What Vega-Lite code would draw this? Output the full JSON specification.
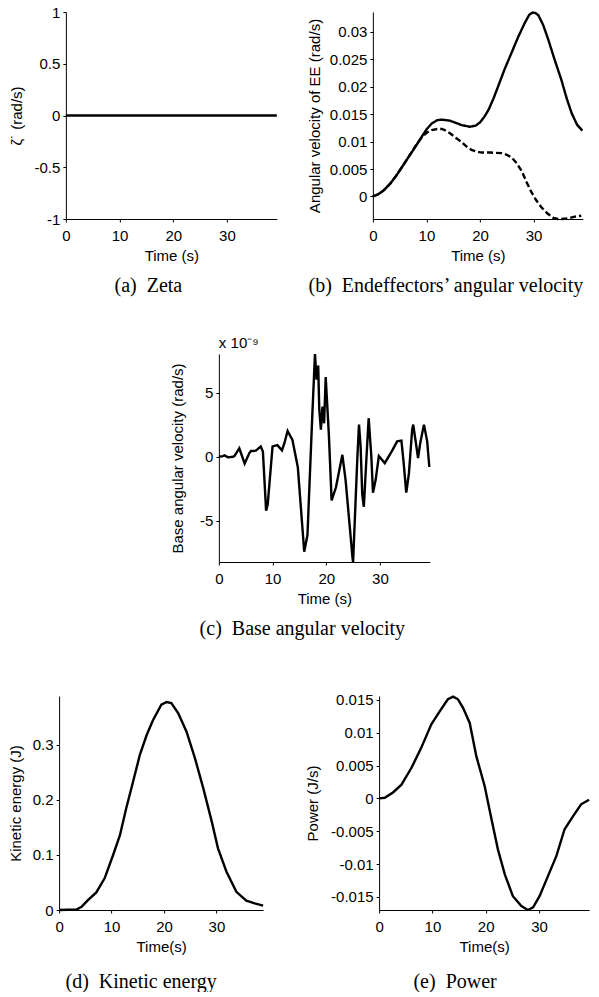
{
  "$schema": "https://vega.github.io/schema/vega-lite/v6.json",
  "padding": {"left": 8, "top": 5, "right": 0, "bottom": 0},
  "background": "white",
  "datasets": {
    "zeta": [{"t": 0, "v": 0}, {"t": 39.3, "v": 0}],
    "ee": [
      {"t": 0, "w": 0, "s": "EE1"}, {"t": 1, "w": 0.0004, "s": "EE1"}, {"t": 2, "w": 0.0011, "s": "EE1"}, {"t": 3.2, "w": 0.0023, "s": "EE1"}, {"t": 4.3, "w": 0.0037, "s": "EE1"}, {"t": 5.4, "w": 0.0053, "s": "EE1"}, {"t": 6.6, "w": 0.0071, "s": "EE1"}, {"t": 7.9, "w": 0.009, "s": "EE1"}, {"t": 9, "w": 0.0107, "s": "EE1"}, {"t": 10, "w": 0.0122, "s": "EE1"}, {"t": 11, "w": 0.0133, "s": "EE1"}, {"t": 12, "w": 0.0139, "s": "EE1"}, {"t": 12.9, "w": 0.014, "s": "EE1"}, {"t": 14.4, "w": 0.0138, "s": "EE1"}, {"t": 15.5, "w": 0.0134, "s": "EE1"}, {"t": 16.6, "w": 0.013, "s": "EE1"}, {"t": 18.1, "w": 0.0127, "s": "EE1"}, {"t": 19.2, "w": 0.0129, "s": "EE1"}, {"t": 20, "w": 0.0135, "s": "EE1"}, {"t": 20.8, "w": 0.0145, "s": "EE1"}, {"t": 21.6, "w": 0.0158, "s": "EE1"}, {"t": 22.5, "w": 0.0178, "s": "EE1"}, {"t": 23.4, "w": 0.0201, "s": "EE1"}, {"t": 24.6, "w": 0.0232, "s": "EE1"}, {"t": 25.9, "w": 0.0262, "s": "EE1"}, {"t": 27.1, "w": 0.029, "s": "EE1"}, {"t": 28.4, "w": 0.0317, "s": "EE1"}, {"t": 29.2, "w": 0.0331, "s": "EE1"}, {"t": 29.8, "w": 0.0335, "s": "EE1"}, {"t": 30.4, "w": 0.0334, "s": "EE1"}, {"t": 30.9, "w": 0.033, "s": "EE1"}, {"t": 31.8, "w": 0.0312, "s": "EE1"}, {"t": 32.7, "w": 0.0287, "s": "EE1"}, {"t": 33.9, "w": 0.025, "s": "EE1"}, {"t": 35.2, "w": 0.0212, "s": "EE1"}, {"t": 36.2, "w": 0.0178, "s": "EE1"}, {"t": 37.1, "w": 0.0152, "s": "EE1"}, {"t": 38.1, "w": 0.0131, "s": "EE1"}, {"t": 39.1, "w": 0.012, "s": "EE1"},
      {"t": 0, "w": 0, "s": "EE2"}, {"t": 1, "w": 0.0004, "s": "EE2"}, {"t": 2, "w": 0.0011, "s": "EE2"}, {"t": 3.2, "w": 0.0023, "s": "EE2"}, {"t": 4.3, "w": 0.0037, "s": "EE2"}, {"t": 5.4, "w": 0.0053, "s": "EE2"}, {"t": 6.6, "w": 0.0071, "s": "EE2"}, {"t": 7.9, "w": 0.0091, "s": "EE2"}, {"t": 9, "w": 0.0106, "s": "EE2"}, {"t": 10, "w": 0.0116, "s": "EE2"}, {"t": 11, "w": 0.0121, "s": "EE2"}, {"t": 12, "w": 0.0123, "s": "EE2"}, {"t": 12.9, "w": 0.0123, "s": "EE2"}, {"t": 13.8, "w": 0.0119, "s": "EE2"}, {"t": 14.7, "w": 0.0113, "s": "EE2"}, {"t": 15.6, "w": 0.0106, "s": "EE2"}, {"t": 16.6, "w": 0.0099, "s": "EE2"}, {"t": 17.5, "w": 0.0091, "s": "EE2"}, {"t": 18.4, "w": 0.0085, "s": "EE2"}, {"t": 19.3, "w": 0.0082, "s": "EE2"}, {"t": 20.3, "w": 0.008, "s": "EE2"}, {"t": 22, "w": 0.008, "s": "EE2"}, {"t": 24, "w": 0.0079, "s": "EE2"}, {"t": 25, "w": 0.0076, "s": "EE2"}, {"t": 25.9, "w": 0.0071, "s": "EE2"}, {"t": 26.9, "w": 0.006, "s": "EE2"}, {"t": 27.8, "w": 0.0046, "s": "EE2"}, {"t": 28.7, "w": 0.0026, "s": "EE2"}, {"t": 29.6, "w": 0.0008, "s": "EE2"}, {"t": 30.5, "w": -0.0007, "s": "EE2"}, {"t": 31.5, "w": -0.002, "s": "EE2"}, {"t": 32.6, "w": -0.0031, "s": "EE2"}, {"t": 33.7, "w": -0.0039, "s": "EE2"}, {"t": 34.5, "w": -0.0041, "s": "EE2"}, {"t": 35.2, "w": -0.0041, "s": "EE2"}, {"t": 36.5, "w": -0.004, "s": "EE2"}, {"t": 37.5, "w": -0.0037, "s": "EE2"}, {"t": 38.9, "w": -0.0035, "s": "EE2"}
    ],
    "base": [
      {"t": 0, "v": 0}, {"t": 0.74, "v": 0.05}, {"t": 1.05, "v": 0.1}, {"t": 1.7, "v": -0.05}, {"t": 2.6, "v": 0}, {"t": 2.9, "v": 0.05}, {"t": 3.8, "v": 0.66}, {"t": 4.8, "v": -0.53}, {"t": 5.7, "v": 0.3}, {"t": 6.0, "v": 0.45}, {"t": 6.9, "v": 0.47}, {"t": 7.8, "v": 0.8}, {"t": 8.2, "v": 0.4}, {"t": 8.8, "v": -4.2}, {"t": 9.1, "v": -3.7}, {"t": 10.0, "v": 0.8}, {"t": 10.9, "v": 0.9}, {"t": 11.75, "v": 0.5}, {"t": 12.2, "v": 1.05}, {"t": 12.8, "v": 2.0}, {"t": 13.7, "v": 1.3}, {"t": 14.7, "v": -0.8}, {"t": 15.9, "v": -7.4}, {"t": 16.5, "v": -6.1}, {"t": 17.4, "v": 3.2}, {"t": 17.9, "v": 8.0}, {"t": 18.2, "v": 6.0}, {"t": 18.5, "v": 7.1}, {"t": 18.7, "v": 3.7}, {"t": 19.0, "v": 2.1}, {"t": 19.3, "v": 3.9}, {"t": 19.6, "v": 2.6}, {"t": 19.9, "v": 6.2}, {"t": 20.2, "v": 3.9}, {"t": 20.5, "v": 1.6}, {"t": 21.0, "v": -3.4}, {"t": 21.8, "v": -2.4}, {"t": 23.0, "v": 0.15}, {"t": 23.6, "v": -1.8}, {"t": 24.9, "v": -7.9}, {"t": 25.0, "v": -8.2}, {"t": 25.8, "v": 0}, {"t": 26.1, "v": 2.5}, {"t": 26.4, "v": 0.8}, {"t": 26.7, "v": -2.9}, {"t": 27.0, "v": -3.9}, {"t": 27.5, "v": 0}, {"t": 27.9, "v": 3.0}, {"t": 28.4, "v": 0}, {"t": 28.7, "v": -2.8}, {"t": 29.2, "v": -1.8}, {"t": 29.8, "v": 0.05}, {"t": 30.9, "v": -0.5}, {"t": 32.3, "v": 0.5}, {"t": 33.2, "v": 1.2}, {"t": 34.0, "v": 1.25}, {"t": 34.4, "v": -0.4}, {"t": 34.9, "v": -2.8}, {"t": 35.4, "v": -1.3}, {"t": 36.0, "v": 2.1}, {"t": 36.2, "v": 2.5}, {"t": 37.1, "v": -0.1}, {"t": 37.5, "v": 1.05}, {"t": 38.2, "v": 2.5}, {"t": 38.8, "v": 1.2}, {"t": 39.2, "v": -0.8}
    ],
    "ke": [
      {"t": 0, "v": 0}, {"t": 3.3, "v": 0.001}, {"t": 4.3, "v": 0.006}, {"t": 5.5, "v": 0.018}, {"t": 7.1, "v": 0.032}, {"t": 8.7, "v": 0.058}, {"t": 10.3, "v": 0.1}, {"t": 11.6, "v": 0.136}, {"t": 12.8, "v": 0.185}, {"t": 14.1, "v": 0.233}, {"t": 15.4, "v": 0.282}, {"t": 16.7, "v": 0.318}, {"t": 17.9, "v": 0.345}, {"t": 19.5, "v": 0.373}, {"t": 20.5, "v": 0.378}, {"t": 21.4, "v": 0.376}, {"t": 22.7, "v": 0.358}, {"t": 24.3, "v": 0.324}, {"t": 25.9, "v": 0.276}, {"t": 27.5, "v": 0.221}, {"t": 29.1, "v": 0.161}, {"t": 30.3, "v": 0.112}, {"t": 31.9, "v": 0.07}, {"t": 33.8, "v": 0.033}, {"t": 35.7, "v": 0.017}, {"t": 37.3, "v": 0.012}, {"t": 38.9, "v": 0.008}
    ],
    "power": [
      {"t": 0, "v": 0}, {"t": 1.06, "v": 0.0001}, {"t": 2.6, "v": 0.0009}, {"t": 4.2, "v": 0.0021}, {"t": 6.1, "v": 0.0047}, {"t": 7.9, "v": 0.0077}, {"t": 9.8, "v": 0.0113}, {"t": 11.4, "v": 0.0133}, {"t": 12.9, "v": 0.0151}, {"t": 13.9, "v": 0.0155}, {"t": 14.8, "v": 0.0151}, {"t": 15.75, "v": 0.0138}, {"t": 17, "v": 0.0115}, {"t": 18.25, "v": 0.0064}, {"t": 19.8, "v": 0.0019}, {"t": 21.1, "v": -0.0032}, {"t": 22.3, "v": -0.0078}, {"t": 23.6, "v": -0.0116}, {"t": 25.1, "v": -0.0149}, {"t": 26.7, "v": -0.0164}, {"t": 27.9, "v": -0.017}, {"t": 28.9, "v": -0.0166}, {"t": 30.1, "v": -0.0149}, {"t": 31.7, "v": -0.0118}, {"t": 33.25, "v": -0.0088}, {"t": 34.8, "v": -0.0047}, {"t": 36.4, "v": -0.0027}, {"t": 37.9, "v": -0.0009}, {"t": 39.4, "v": -0.0002}
    ]
  },
  "config": {
    "view": {"stroke": null},
    "axis": {
      "domainColor": "#000", "tickColor": "#000", "labelColor": "#000", "titleColor": "#000",
      "grid": false, "tickSize": 3, "labelFont": "Liberation Sans", "labelFontSize": 15,
      "titleFont": "Liberation Sans", "titleFontSize": 15, "titleFontWeight": "normal",
      "labelPadding": 3, "labelFlush": false, "labelExpr": "'' + datum.value"
    },
    "axisX": {"titlePadding": 5, "labelPadding": 6},
    "axisY": {"titlePadding": 10},
    "title": {"font": "Liberation Serif", "fontSize": 20, "fontWeight": "normal", "color": "#000", "orient": "bottom", "offset": 13},
    "line": {"color": "#000", "strokeWidth": 2.4}
  },
  "spacing": 40,
  "center": true,
  "vconcat": [
    {
      "hconcat": [
        {
          "width": 211, "height": 207,
          "data": {"name": "zeta"},
          "title": {"text": "(a)\u2002Zeta", "dx": -23},
          "mark": {"type": "line", "strokeWidth": 2.6},
          "encoding": {
            "x": {"field": "t", "type": "quantitative", "scale": {"domain": [0, 39.3], "nice": false}, "axis": {"title": "Time (s)", "values": [0, 10, 20, 30]}},
            "y": {"field": "v", "type": "quantitative", "scale": {"domain": [-1, 1], "nice": false}, "axis": {"title": "ζ˙ (rad/s)", "titlePadding": 10, "values": [-1, -0.5, 0, 0.5, 1]}}
          }
        },
        {
          "width": 210, "height": 207,
          "data": {"name": "ee"},
          "title": {"text": "(b)\u2002Endeffectors’ angular velocity", "dx": -32},
          "mark": {"type": "line"},
          "encoding": {
            "x": {"field": "t", "type": "quantitative", "scale": {"domain": [0, 39.2], "nice": false}, "axis": {"title": "Time (s)", "values": [0, 10, 20, 30]}},
            "y": {"field": "w", "type": "quantitative", "scale": {"domain": [-0.0041, 0.0336], "nice": false, "zero": false}, "axis": {"title": "Angular velocity of EE (rad/s)", "titlePadding": 7, "values": [0, 0.005, 0.01, 0.015, 0.02, 0.025, 0.03]}},
            "strokeDash": {"field": "s", "type": "nominal", "scale": {"domain": ["EE1", "EE2"], "range": [[1, 0], [6, 3]]}, "legend": null}
          }
        }
      ],
      "bounds": "flush",
      "spacing": 96
    },
    {
      "hconcat": [
        {
          "width": 211, "height": 208,
          "data": {"name": "base"},
          "title": {"text": "x 10⁻⁹", "orient": "top", "anchor": "start", "frame": "group", "font": "Liberation Sans", "fontSize": 15, "offset": -2},
          "mark": {"type": "line"},
          "encoding": {
            "x": {"field": "t", "type": "quantitative", "scale": {"domain": [0, 39.3], "nice": false}, "axis": {"title": "Time (s)", "values": [0, 10, 20, 30]}},
            "y": {"field": "v", "type": "quantitative", "scale": {"domain": [-8.2, 8.0], "nice": false, "zero": false}, "axis": {"title": "Base angular velocity (rad/s)", "titlePadding": 14, "values": [-5, 0, 5]}}
          }
        }
      ],
      "title": {"text": ["(c)\u2002Base angular velocity", ""], "anchor": "middle", "lineHeight": 12}
    },
    {
      "hconcat": [
        {
          "width": 204, "height": 214,
          "data": {"name": "ke"},
          "title": {"text": "(d)\u2002Kinetic energy", "dx": -20, "offset": 18},
          "mark": {"type": "line"},
          "encoding": {
            "x": {"field": "t", "type": "quantitative", "scale": {"domain": [0, 38.9], "nice": false}, "axis": {"title": "Time(s)", "values": [0, 10, 20, 30]}},
            "y": {"field": "v", "type": "quantitative", "scale": {"domain": [0, 0.3889], "nice": false}, "axis": {"title": "Kinetic energy (J)", "titlePadding": 9, "values": [0, 0.1, 0.2, 0.3]}}
          }
        },
        {
          "width": 210, "height": 214,
          "data": {"name": "power"},
          "title": {"text": "(e)\u2002Power", "dx": -29, "offset": 18},
          "mark": {"type": "line"},
          "encoding": {
            "x": {"field": "t", "type": "quantitative", "scale": {"domain": [0, 39.4], "nice": false}, "axis": {"title": "Time(s)", "values": [0, 10, 20, 30]}},
            "y": {"field": "v", "type": "quantitative", "scale": {"domain": [-0.017, 0.0156], "nice": false, "zero": false}, "axis": {"title": "Power (J/s)", "values": [-0.015, -0.01, -0.005, 0, 0.005, 0.01, 0.015]}}
          }
        }
      ],
      "bounds": "flush",
      "spacing": 116
    }
  ]
}
